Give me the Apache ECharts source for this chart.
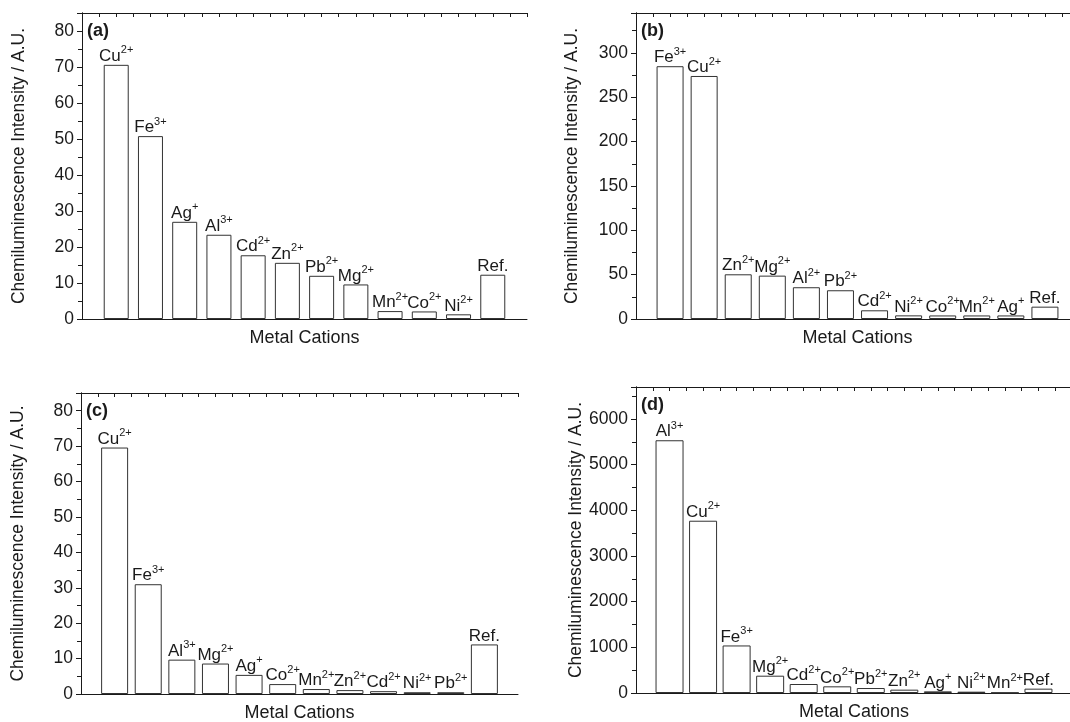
<!DOCTYPE html>
<html>
<head>
<meta charset="utf-8">
<script src="https://cdn.jsdelivr.net/npm/echarts@6/dist/echarts.min.js"></script>
<style>
  html, body { margin: 0; padding: 0; background: #fff; }
  #chart { width: 1070px; height: 722px; }
</style>
</head>
<body>
<div id="chart"></div>
<script>
// panel (a)
var ionsA = ['Cu', 'Fe', 'Ag', 'Al', 'Cd', 'Zn', 'Pb', 'Mg', 'Mn', 'Co', 'Ni', 'Ref.'];
var chargesA = ['2+', '3+', '+', '3+', '2+', '2+', '2+', '2+', '2+', '2+', '2+', ''];
var valuesA = [70.6, 50.8, 27.0, 23.4, 17.7, 15.6, 12.0, 9.6, 2.2, 2.1, 1.3, 12.3];

// panel (b)
var ionsB = ['Fe', 'Cu', 'Zn', 'Mg', 'Al', 'Pb', 'Cd', 'Ni', 'Co', 'Mn', 'Ag', 'Ref.'];
var chargesB = ['3+', '2+', '2+', '2+', '2+', '2+', '2+', '2+', '2+', '2+', '+', ''];
var valuesB = [285, 274, 50.4, 48.9, 35.8, 32.4, 9.8, 4.1, 4.0, 4.0, 4.0, 13.9];

// panel (c)
var ionsC = ['Cu', 'Fe', 'Al', 'Mg', 'Ag', 'Co', 'Mn', 'Zn', 'Cd', 'Ni', 'Pb', 'Ref.'];
var chargesC = ['2+', '3+', '3+', '2+', '+', '2+', '2+', '2+', '2+', '2+', '2+', ''];
var valuesC = [69.6, 31.0, 9.7, 8.6, 5.4, 2.8, 1.4, 1.1, 0.8, 0.5, 0.5, 14.0];

// panel (d)
var ionsD = ['Al', 'Cu', 'Fe', 'Mg', 'Cd', 'Co', 'Pb', 'Zn', 'Ag', 'Ni', 'Mn', 'Ref.'];
var chargesD = ['3+', '2+', '3+', '2+', '2+', '2+', '2+', '2+', '+', '2+', '2+', ''];
var valuesD = [5534, 3772, 1041, 379, 197, 146, 109, 73, 36, 29, 10, 95];

var panelTags = ['(a)', '(b)', '(c)', '(d)'];
var xName = 'Metal Cations';
var yName = 'Chemiluminescence Intensity / A.U.';

var ink = '#1a1a1a';
var font = 'Liberation Sans, Arial, Helvetica, sans-serif';

var panels = [
  { ions: ionsA, charges: chargesA, values: valuesA, left: 82, top: 13, width: 445, height: 306, ymax: 85, yint: 10, barW: 25, nameGap: 54 },
  { ions: ionsB, charges: chargesB, values: valuesB, left: 636, top: 13, width: 443, height: 306, ymax: 345, yint: 50, barW: 27, nameGap: 55 },
  { ions: ionsC, charges: chargesC, values: valuesC, left: 81, top: 393, width: 437, height: 301, ymax: 85, yint: 10, barW: 27, nameGap: 54 },
  { ions: ionsD, charges: chargesD, values: valuesD, left: 636, top: 387, width: 436, height: 306, ymax: 6700, yint: 1000, barW: 28, nameGap: 51 }
];

var grids = [], xAxes = [], yAxes = [], series = [], graphics = [];

panels.forEach(function (p, i) {
  grids.push({ left: p.left, top: p.top, width: p.width, height: p.height, outerBoundsMode: 'none' });

  // bottom axis
  xAxes.push({
    gridIndex: i, type: 'value', min: 0, max: 13, position: 'bottom',
    name: xName, nameLocation: 'middle', nameGap: 10,
    nameTextStyle: { color: ink, fontSize: 18, fontFamily: font },
    axisLine: { onZero: false, lineStyle: { color: ink, width: 1 } },
    axisTick: { show: false }, axisLabel: { show: false }, splitLine: { show: false }
  });
  // top mirror
  xAxes.push({
    gridIndex: i, type: 'value', min: 0, max: 13, interval: 0.5, position: 'top',
    axisLine: { onZero: false, lineStyle: { color: ink, width: 1 } },
    axisTick: { inside: true, length: 4, lineStyle: { color: ink } },
    axisLabel: { show: false }, splitLine: { show: false }
  });
  // left axis
  yAxes.push({
    gridIndex: i, type: 'value', min: 0, max: p.ymax, interval: p.yint, position: 'left',
    name: yName, nameLocation: 'middle', nameGap: p.nameGap,
    nameTextStyle: { color: ink, fontSize: 17.5, fontFamily: font },
    axisLine: { show: true, lineStyle: { color: ink, width: 1 } },
    axisTick: { show: true, length: 5, lineStyle: { color: ink } },
    minorTick: { show: true, splitNumber: 2, length: 3, lineStyle: { color: ink } },
    axisLabel: {
      color: ink, fontSize: 17.5, fontFamily: font, margin: 8, showMaxLabel: false,
      formatter: function (v) { return String(v); }
    },
    splitLine: { show: false }
  });
  // right mirror
  yAxes.push({
    gridIndex: i, type: 'value', min: 0, max: p.ymax, interval: p.yint, position: 'right',
    axisLine: { show: true, lineStyle: { color: ink, width: 1 } },
    axisTick: { show: true, inside: true, length: 4, lineStyle: { color: ink } },
    minorTick: { show: true, splitNumber: 2, length: 4, lineStyle: { color: ink } },
    axisLabel: { show: false }, splitLine: { show: false }
  });

  series.push({
    type: 'bar',
    xAxisIndex: i * 2,
    yAxisIndex: i * 2,
    barWidth: p.barW,
    data: p.values.map(function (v, k) { return [k + 1, v]; }),
    itemStyle: { color: '#fff', borderColor: '#333', borderWidth: 1 },
    label: {
      show: true,
      position: 'top',
      distance: -3,
      color: ink,
      fontSize: 17,
      lineHeight: 23,
      fontFamily: font,
      formatter: function (d) {
        var c = p.charges[d.dataIndex];
        return p.ions[d.dataIndex] + (c ? '{s|' + c + '}' : '');
      },
      rich: {
        s: { fontSize: 11, lineHeight: 11, verticalAlign: 'top', color: ink, fontFamily: font }
      }
    }
  });

  graphics.push({
    type: 'text',
    left: p.left + 5,
    top: p.top + 9,
    style: { text: panelTags[i], fill: ink, font: 'bold 18px ' + font }
  });
});

var chart = echarts.init(document.getElementById('chart'), null, { renderer: 'canvas' });
chart.setOption({
  animation: false,
  backgroundColor: '#fff',
  grid: grids,
  xAxis: xAxes,
  yAxis: yAxes,
  series: series,
  graphic: graphics
});
window.addEventListener('resize', function () { chart.resize(); });
</script>
</body>
</html>
